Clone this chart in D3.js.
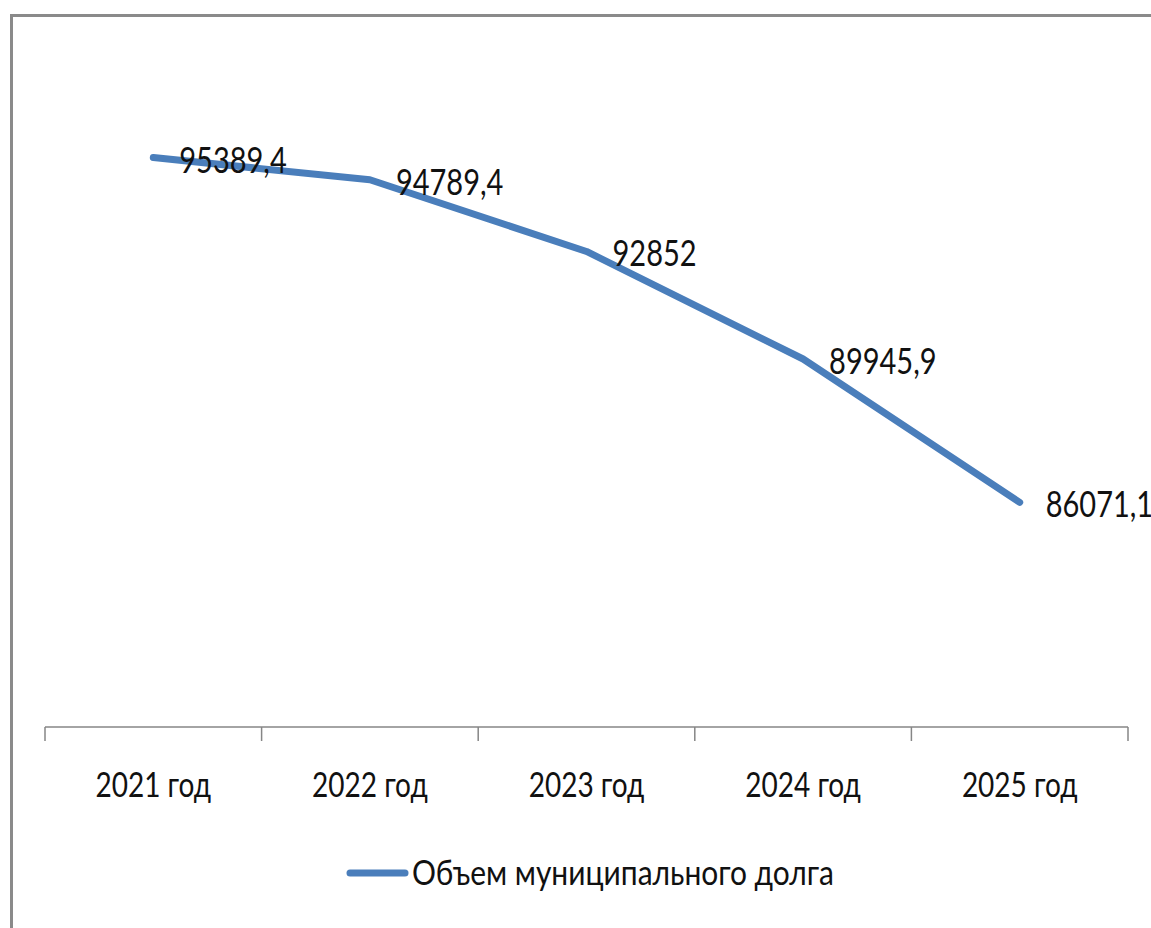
<!DOCTYPE html>
<html>
<head>
<meta charset="utf-8">
<script src="https://cdn.jsdelivr.net/npm/d3@7"></script>
<style>
  html, body { margin: 0; padding: 0; background: #fff; }
  svg { display: block; }
  text { font-family: Lato, "Open Sans", sans-serif; fill: #111; }
</style>
</head>
<body>
<svg class="svgWrapper" width="1151" height="928"></svg>
<script>
// chart data
const years = ['2021 год', '2022 год', '2023 год', '2024 год', '2025 год'];
const debtValues = [95389.4, 94789.4, 92852, 89945.9, 86071.1];
const seriesName = 'Объем муниципального долга';

const svgObj = d3.select('.svgWrapper');
const lineColor = '#4a7ebb';

// stretch factor - source fonts are tall/condensed
const sy = 1.25;

//scales
const x = d3.scaleBand().domain(years).range([45, 1128]).padding(0);
const y = d3.scaleLinear().domain([80000, 100000]).range([727, -13]);
const cx = d => x(d) + x.bandwidth() / 2;

// outer frame (cropped at right/bottom)
svgObj.append('rect')
  .attr('x', 11.5).attr('y', 15.5)
  .attr('width', 1200).attr('height', 1000)
  .attr('fill', 'none')
  .attr('stroke', '#8a8a8a')
  .attr('stroke-width', 3);

// category axis
const axisG = svgObj.append('g');
axisG.append('line')
  .attr('x1', 45).attr('x2', 1128)
  .attr('y1', y(80000)).attr('y2', y(80000))
  .attr('stroke', '#868686').attr('stroke-width', 1.5);

const boundaries = years.map(d => x(d)).concat([x(years[years.length - 1]) + x.bandwidth()]);
axisG.selectAll('.tick')
  .data(boundaries)
  .enter().append('line')
  .attr('class', 'tick')
  .attr('x1', d => d).attr('x2', d => d)
  .attr('y1', y(80000)).attr('y2', y(80000) + 14)
  .attr('stroke', '#868686').attr('stroke-width', 1.5);

axisG.selectAll('.catLabel')
  .data(years)
  .enter().append('text')
  .attr('class', 'catLabel')
  .attr('text-anchor', 'middle')
  .attr('font-size', 28)
  .attr('transform', d => `translate(${cx(d)},797) scale(1,${sy})`)
  .text(d => d);

// the line
const lineGen = d3.line()
  .x((d, i) => cx(years[i]))
  .y(d => y(d));

svgObj.append('path')
  .datum(debtValues)
  .attr('d', lineGen)
  .attr('fill', 'none')
  .attr('stroke', lineColor)
  .attr('stroke-width', 7)
  .attr('stroke-linecap', 'round')
  .attr('stroke-linejoin', 'round');

// value labels
svgObj.selectAll('.valLabel')
  .data(debtValues)
  .enter().append('text')
  .attr('class', 'valLabel')
  .attr('font-size', 29)
  .attr('transform', (d, i) => `translate(${cx(years[i]) + 26},${y(d) + 15}) scale(1,${sy})`)
  .text(d => String(d).replace('.', ','));

// legend
const legend = svgObj.append('g');
legend.append('line')
  .attr('x1', 350).attr('x2', 405)
  .attr('y1', 873).attr('y2', 873)
  .attr('stroke', lineColor)
  .attr('stroke-width', 7)
  .attr('stroke-linecap', 'round');
legend.append('text')
  .attr('font-size', 28)
  .attr('transform', `translate(412,885) scale(1.07,${sy})`)
  .text(seriesName);
</script>
</body>
</html>
